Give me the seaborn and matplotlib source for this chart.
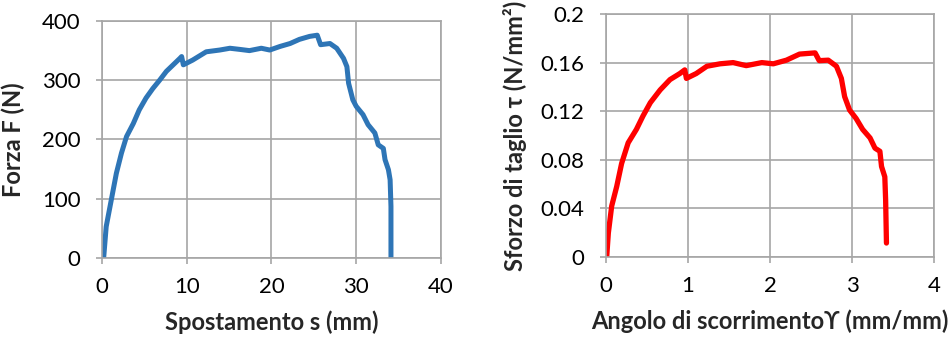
import matplotlib
matplotlib.use("Agg")
import matplotlib.pyplot as plt
import seaborn as sns
import pandas as pd

# Force vs displacement
spost_s = [0.2, 0.5, 1.1, 1.7, 2.3, 2.9, 3.7, 4.4, 5.2, 6.0, 6.8, 7.6, 8.4, 9.2, 9.4,
           9.6, 10.7, 12.3, 13.9, 15.1, 16.3, 17.4, 18.8, 19.8, 21.0, 22.2, 23.3, 24.5,
           25.4, 25.8, 26.9, 27.7, 28.5, 28.9, 29.1, 29.6, 30.0, 30.8, 31.4, 32.2, 32.6,
           33.2, 33.4, 33.8, 34.0, 34.1, 34.1]
forza_F = [0, 53, 98, 143, 177, 205, 227, 250, 270, 286, 300, 315, 326, 337, 340,
           326, 334, 348, 351, 354, 352, 350, 354, 351, 357, 362, 369, 374,
           376, 360, 362, 354, 337, 323, 295, 267, 256, 242, 225, 211, 191,
           185, 166, 149, 132, 87, 0]

# Shear stress vs shear strain
angolo_g = [0.008, 0.028, 0.069, 0.13, 0.19, 0.27, 0.37, 0.45, 0.54, 0.66, 0.78, 0.90, 0.96,
            0.98, 1.10, 1.23, 1.39, 1.55, 1.71, 1.90, 2.04, 2.20, 2.36, 2.55,
            2.60, 2.71, 2.81, 2.87, 2.91, 2.97, 3.05, 3.13, 3.22, 3.28, 3.34, 3.36,
            3.40, 3.41, 3.42]
sforzo_tau = [0, 0.0197, 0.042, 0.058, 0.077, 0.094, 0.105, 0.116, 0.127, 0.1375, 0.146, 0.151, 0.154,
              0.147, 0.151, 0.157, 0.159, 0.160, 0.1575, 0.160, 0.159, 0.162, 0.167, 0.168,
              0.1616, 0.162, 0.157, 0.147, 0.132, 0.121, 0.114, 0.105, 0.098, 0.0896, 0.087, 0.0745,
              0.066, 0.047, 0.0115]

x_ticks_left = [0, 10, 20, 30, 40]
y_ticks_left = [0, 100, 200, 300, 400]
x_ticks_right = [0, 1, 2, 3, 4]
y_ticks_right = [0, 0.04, 0.08, 0.12, 0.16, 0.2]
y_labels_right = ["0", "0.04", "0.08", "0.12", "0.16", "0.2"]

sns.set_theme(style="white")
plt.rcParams["font.family"] = ["Lato", "DejaVu Sans"]

fig = plt.figure(figsize=(9.52, 3.43), dpi=100)
ax1 = fig.add_axes([0.1071, 0.2478, 0.3561, 0.6910])
ax2 = fig.add_axes([0.6366, 0.2507, 0.3445, 0.7085])

grid_c = "#A6A6A6"
tick_fs = 16
label_fs = 17

df1 = pd.DataFrame({"s": spost_s, "F": forza_F})
df2 = pd.DataFrame({"g": angolo_g, "t": sforzo_tau})

sns.lineplot(data=df1, x="s", y="F", ax=ax1, sort=False, estimator=None,
             color="#2E75B6", linewidth=3.6, solid_capstyle="butt", solid_joinstyle="round")
sns.lineplot(data=df2, x="g", y="t", ax=ax2, sort=False, estimator=None,
             color="#FF0000", linewidth=3.8, solid_capstyle="round", solid_joinstyle="round")

for ax, xt, yt in [(ax1, x_ticks_left, y_ticks_left), (ax2, x_ticks_right, y_ticks_right)]:
    ax.set_xlim(xt[0], xt[-1])
    ax.set_ylim(yt[0], yt[-1])
    ax.set_xticks(xt)
    ax.set_yticks(yt)
    ax.grid(True, color=grid_c, linewidth=1.2)
    ax.set_axisbelow(True)
    for sp in ax.spines.values():
        sp.set_color(grid_c)
        sp.set_linewidth(1.2)
    ax.tick_params(axis="both", which="both", direction="out", length=4.5, width=1.2,
                   color=grid_c, labelsize=tick_fs, labelcolor="black",
                   left=True, bottom=True)
    ax.tick_params(axis="y", pad=11)
    ax.tick_params(axis="x", pad=9)

ax2.set_yticklabels(y_labels_right)

ax1.set_xlabel("Spostamento s (mm)", fontsize=label_fs, fontweight="bold", labelpad=10)
ax1.set_ylabel("Forza F (N)", fontsize=label_fs, fontweight="bold", labelpad=12)
ax2.set_xlabel("Angolo di scorrimentoϒ (mm/mm)", fontsize=label_fs, fontweight="bold", labelpad=10)
ax2.set_ylabel("Sforzo di taglio τ (N/mm²)", fontsize=label_fs, fontweight="bold", labelpad=10)

fig.savefig("out.png", dpi=100)
